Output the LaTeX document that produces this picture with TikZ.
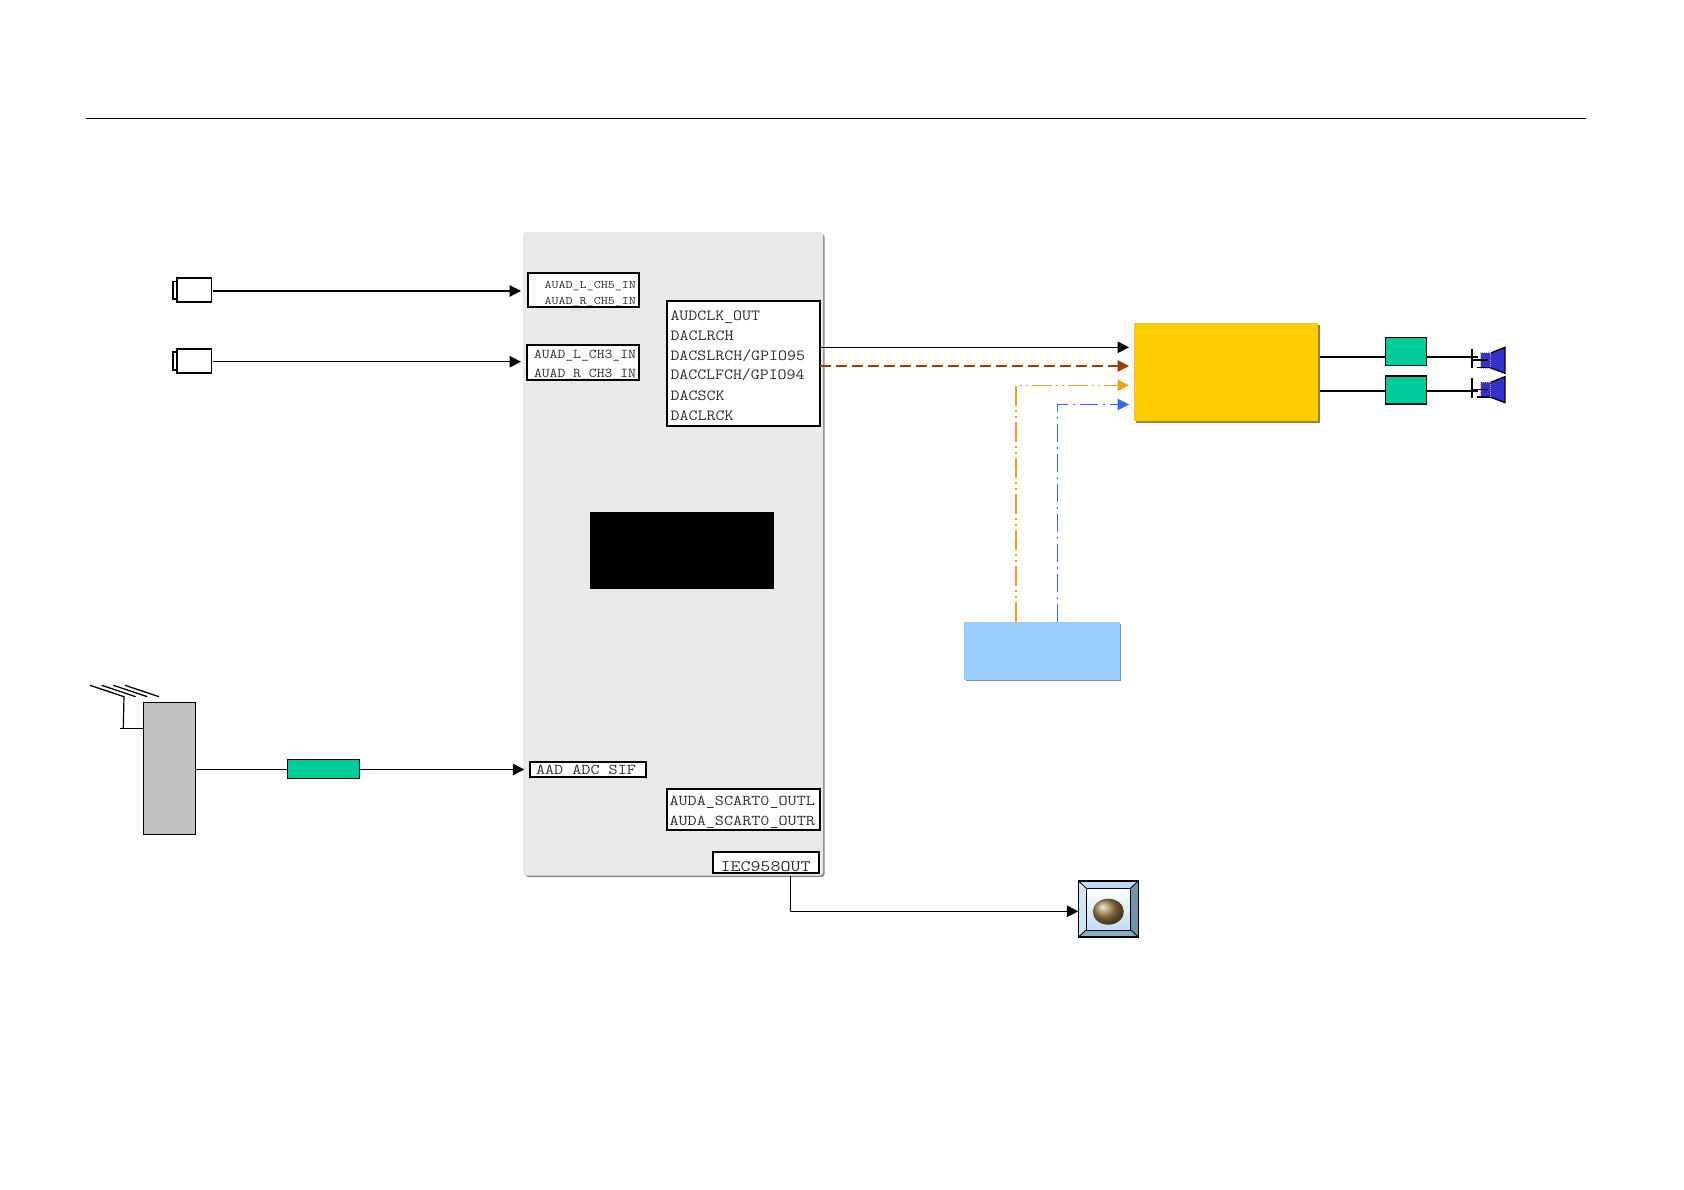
\documentclass[tikz,border=0pt]{standalone}
\usepackage{graphicx}
\usetikzlibrary{arrows.meta,shadings}
\definecolor{blockgray}{HTML}{E9E9E9}
\definecolor{shadowgray}{HTML}{8C8C8C}
\definecolor{ampyellow}{HTML}{FFCC00}
\definecolor{ampshadow}{HTML}{8C8060}
\definecolor{filtgreen}{HTML}{00CC99}
\definecolor{srcblue}{HTML}{99CCFF}
\definecolor{tunergray}{HTML}{C0C0C0}
\definecolor{txtgray}{HTML}{303030}
\definecolor{sigbrown}{HTML}{993D00}
\definecolor{sigorange}{HTML}{F0A020}
\definecolor{sigblue}{HTML}{3366FF}
\definecolor{spkblue}{HTML}{3333CC}
\definecolor{spkpink}{HTML}{E090B0}
\definecolor{bevtop}{HTML}{BCDCF2}
\definecolor{bevleft}{HTML}{CFE6F6}
\definecolor{bevright}{HTML}{6F93A8}
\definecolor{bevbottom}{HTML}{86AEC6}
\definecolor{facelow}{HTML}{BEDCF4}
\definecolor{ballcol}{HTML}{A08048}
\newcommand{\bx}[6]{\node[#6,inner sep=0pt,outer sep=0pt,minimum width={(#4-#2)*1pt},minimum height={(#5-#3)*1pt},anchor=north west] (#1) at (#2,#3) {};}
\newcommand{\lbl}[6]{\node[lbltext] (#1) at (#2,#3) {\resizebox{#5pt}{\height}{\fontsize{#4}{#4}\selectfont\ttfamily #6}};}
\newcommand{\spk}[1]{%
  \begin{scope}[yshift=#1]
    \fill[spkblue] (1490,353.3) -- (1505,347.3) -- (1505,373.3) -- (1490,367.7) -- cycle;
    \draw[line width=1.3pt] (1490,353.3) -- (1505,347.3) -- (1505,373.3) -- (1490,367.7);
    \fill[spkblue] (1480.5,353) rectangle (1490,367.5);
    \draw[spkpink,line width=1pt,densely dotted] (1480,352.7) rectangle (1490,368);
    \draw[line width=1.2pt] (1472,349) -- (1472,368.3);
    \draw[line width=1.2pt] (1477,367.7) -- (1490,367.7);
    \draw[line width=1.2pt] (1472,360) -- (1488,360);
  \end{scope}}
\tikzset{
  lbltext/.style={anchor=base west,inner sep=0pt,outer sep=0pt,text=txtgray},
  portbg/.style={fill=white},
  portline/.style={draw=black,line width=2pt},
  sig/.style={draw=black,line width=1.2pt,-{Triangle[length=11.5pt,width=11.5pt]}},
  plain/.style={draw=black,line width=1.2pt},
  wire/.style={draw=black,line width=1.6pt},
  filt/.style={draw=black,line width=1.5pt,fill=filtgreen},
  jack/.style={draw=black,line width=1.6pt,fill=white}
}
\begin{document}
\begin{tikzpicture}[x=1pt,y=-1pt]
\useasboundingbox (0,0) rectangle (1684,1190);
\fill[white] (0,0) rectangle (1684,1190);
% top rule
\coordinate (ruleL) at (86,118.7);
\coordinate (ruleR) at (1586,118.7);
\draw[black,line width=1pt] (ruleL) -- (ruleR);
% main block
\fill[shadowgray,rounded corners=3pt] (525,234) rectangle (824.5,877);
\bx{block}{523}{232}{823}{875.5}{fill=blockgray,rounded corners=3pt}
\bx{chip}{589.6}{512.3}{774.3}{588.5}{fill=black}
% CH5
\bx{chfiveb}{527.5}{272.7}{639}{307}{portbg}
\lbl{cfa}{544.5}{289}{11.5}{91.5}{AUAD\_L\_CH5\_IN}
\lbl{cfb}{544.5}{305}{11.5}{91.5}{AUAD\_R\_CH5\_IN}
\bx{chfive}{527.5}{272.7}{639}{307}{portline}
% CH3
\bx{chthreeb}{526.7}{344.7}{639}{380}{portbg}
\lbl{cta}{534}{358.5}{13.5}{102}{AUAD\_L\_CH3\_IN}
\lbl{ctb}{534}{377.5}{13.5}{102}{AUAD\_R\_CH3\_IN}
\bx{chthree}{526.7}{344.7}{639}{380}{portline}
% DAC
\bx{dacb}{666.7}{300.7}{820}{426}{portbg}
\lbl{da}{670.5}{320.5}{15.5}{89.5}{AUDCLK\_OUT}
\lbl{db}{670.5}{340.5}{15.5}{63}{DACLRCH}
\lbl{dc}{670.5}{360}{15.5}{134.5}{DACSLRCH/GPIO95}
\lbl{dd}{670.5}{380}{15.5}{134}{DACCLFCH/GPIO94}
\lbl{de}{670.5}{400.5}{15.5}{54}{DACSCK}
\lbl{df}{670.5}{420.5}{15.5}{63}{DACLRCK}
\bx{dac}{666.7}{300.7}{820}{426}{portline}
% AAD
\bx{aadb}{530}{762}{646}{776.7}{portbg}
\lbl{aa}{536}{774.5}{15}{100}{AAD\_ADC\_SIF}
\bx{aad}{530}{762}{646}{776.7}{portline}
% SCART
\bx{scb}{666.7}{789}{820}{830}{portbg}
\lbl{sa}{669.5}{805}{15}{145.5}{AUDA\_SCART0\_OUTL}
\lbl{sb}{669.5}{825}{15}{145.5}{AUDA\_SCART0\_OUTR}
\bx{sc}{666.7}{789}{820}{830}{portline}
% IEC
\bx{iecb}{712.7}{852}{819.3}{873.3}{portbg}
\lbl{ia}{720.5}{871}{16}{90}{IEC958OUT}
\bx{iec}{712.7}{852}{819.3}{873.3}{portline}
% jacks
\bx{tabone}{172.7}{281.5}{178}{299}{jack}
\bx{jackone}{176.7}{278}{211.5}{302}{jack}
\bx{tabtwo}{172.7}{352}{178}{370}{jack}
\bx{jacktwo}{176.7}{349}{211.5}{373}{jack}
\coordinate (ia) at (300,291);
\coordinate (ib) at (300,361.7);
\draw[sig,shorten >=6.5pt] ([xshift=1.5pt]jackone.east |- ia) -- (chfive.west |- ia);
\draw[sig,shorten >=5.7pt] ([xshift=1.5pt]jacktwo.east |- ib) -- (chthree.west |- ib);
% amplifier and source
\fill[ampshadow] (1136,325) rectangle (1320,422.7);
\bx{amp}{1134}{323}{1318}{420.7}{fill=ampyellow}
\fill[shadowgray] (966.4,623.8) rectangle (1121,681);
\bx{src}{964.4}{621.8}{1120}{680}{fill=srcblue}
\coordinate (ya) at (1000,347.3);
\coordinate (yb) at (1000,366);
\coordinate (oc) at (1016,385.3);
\coordinate (bc) at (1057,404.5);
\draw[sig] (dac.east |- ya) -- ([xshift=-5pt]amp.west |- ya);
\draw[sig,draw=sigbrown,line width=1.5pt,dash pattern=on 10.5pt off 5.5pt] (dac.east |- yb) -- ([xshift=-5pt]amp.west |- yb);
\draw[sig,draw=sigorange,line width=1.4pt,dash pattern=on 20pt off 4pt on 2pt off 4pt on 2pt off 4pt] (oc |- src.north) -- (oc) -- ([xshift=-5pt]amp.west |- oc);
\draw[sig,draw=sigblue,line width=1pt,dash pattern=on 18pt off 5pt on 2pt off 5pt] (bc |- src.north) -- (bc) -- ([xshift=-5pt]amp.west |- bc);
% output filters and speakers
\bx{fa}{1385.3}{337.7}{1426.3}{365.7}{filt}
\bx{fb}{1385.3}{376}{1426.3}{404}{filt}
\coordinate (spa) at (1478,357);
\coordinate (spb) at (1478,391);
\draw[wire] ([xshift=2pt]amp.east |- spa) -- (fa.west |- spa);
\draw[wire] ([xshift=2pt]amp.east |- spb) -- (fb.west |- spb);
\draw[wire] (fa.east |- spa) -- (spa);
\draw[wire] (fb.east |- spb) -- (spb);
\spk{0pt}
\spk{-29.3pt}
% tuner and antenna
\bx{tuner}{143.7}{702.3}{195.7}{834.5}{draw=black,line width=1.5pt,fill=tunergray}
\foreach \d in {0,11.67,23.33,35}{\draw[black,line width=1.3pt] (90+\d,685.3) -- (124+\d,696.7);}
\coordinate (mast) at (124,696);
\coordinate (mastb) at (123.3,728.7);
\coordinate (mastl) at (120,728.7);
\draw[plain] (mast) -- (mastb);
\draw[plain] (mastl) -- (tuner.west |- mastl);
\bx{sif}{287.5}{759.5}{359.5}{778.6}{filt}
\coordinate (ic) at (300,769.5);
\draw[plain] (tuner.east |- ic) -- (sif.west |- ic);
\draw[sig,shorten >=5.7pt] (sif.east |- ic) -- (aad.west |- ic);
% output device
\bx{dev}{1078.3}{880.7}{1138.3}{937}{fill=white}
\fill[bevtop] (1078.3,880.7) -- (1138.3,880.7) -- (1130.7,888) -- (1086,888) -- cycle;
\fill[bevleft] (1078.3,880.7) -- (1086,888) -- (1086,930) -- (1078.3,937) -- cycle;
\fill[bevright] (1138.3,880.7) -- (1130.7,888) -- (1130.7,930) -- (1138.3,937) -- cycle;
\fill[bevbottom] (1078.3,937) -- (1086,930) -- (1130.7,930) -- (1138.3,937) -- cycle;
\shade[top color=white,bottom color=facelow] (1086,888) rectangle (1130.7,930);
\draw[black,line width=1.6pt] (1078.3,880.7) rectangle (1138.3,937);
\draw[black,line width=1pt] (1086,888) rectangle (1130.7,930);
\draw[black,line width=0.8pt] (1078.3,880.7) -- (1086,888) (1138.3,880.7) -- (1130.7,888) (1078.3,937) -- (1086,930) (1138.3,937) -- (1130.7,930);
\shade[ball color=ballcol] (1108.3,911.7) ellipse (15.5pt and 13pt);
\coordinate (iecb) at (790.7,911.3);
\draw[sig] (block.south -| iecb) -- (iecb) -- (dev.west |- iecb);
\end{tikzpicture}
\end{document}
